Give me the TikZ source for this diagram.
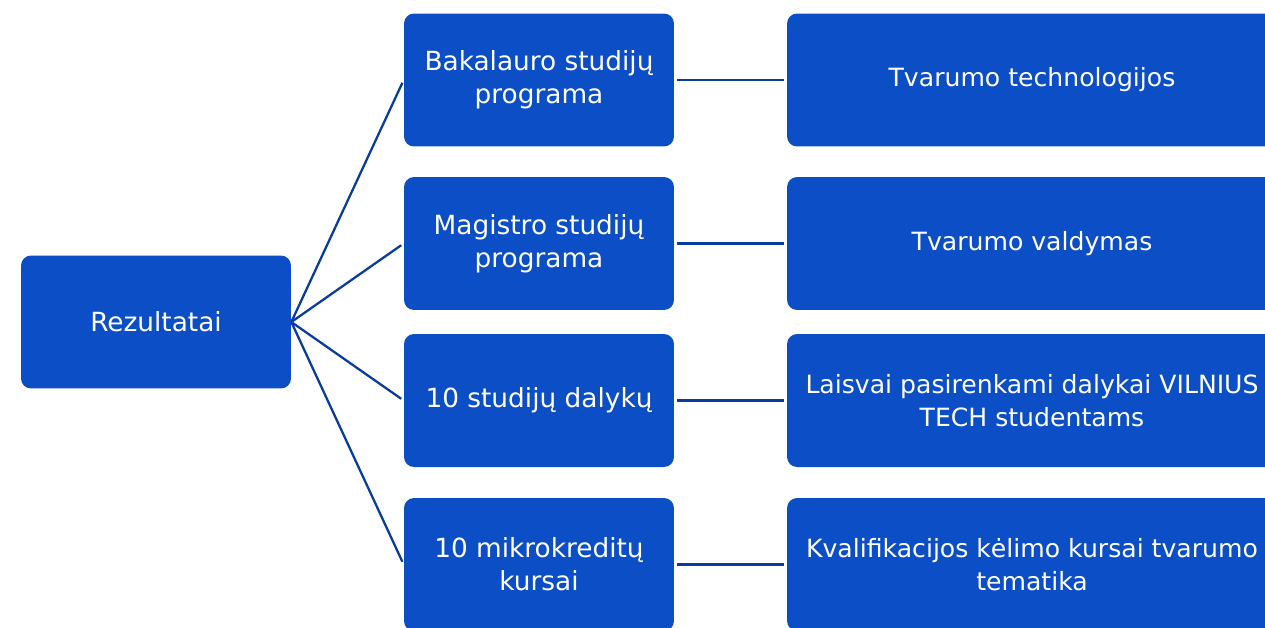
\documentclass[tikz,border=0pt]{standalone}
\usepackage{fontspec}
\setmainfont{DejaVu Sans}
\definecolor{boxblue}{HTML}{0C4EC5}
\definecolor{lineblue}{HTML}{0A3C9E}
\tikzset{
  box/.style={fill=boxblue,text=white,rounded corners=0.2cm,align=center,
    minimum height=2.66cm,inner sep=0pt,
    font=\fontsize{15}{18.8}\selectfont},
  leftbox/.style={box,minimum width=5.4cm},
  midbox/.style={box,minimum width=5.4cm},
  rightbox/.style={box,minimum width=9.8cm,font=\fontsize{14.3}{18.8}\selectfont},
  link/.style={lineblue,line width=1.3pt,shorten <=0.06cm,shorten >=0.06cm}
}
\begin{document}
\begin{tikzpicture}[x=0.02cm,y=-0.02cm]
\useasboundingbox (0,0) rectangle (1265,627);
\clip (0,0) rectangle (1265,627);

% root:
\node[leftbox] (rez) at (156,322) {Rezultatai};

% middle column:
\node[midbox] (bak) at (539,80) {Bakalauro studijų\\programa};
\node[midbox] (mag) at (539,243.5) {Magistro studijų\\programa};
\node[midbox] (dal) at (539,400.5) {10 studijų dalykų};
\node[midbox] (mik) at (539,564.5) {10 mikrokreditų\\kursai};

% right column:
\node[rightbox] (tec) at (1032,80) {Tvarumo technologijos};
\node[rightbox] (val) at (1032,243.5) {Tvarumo valdymas};
\node[rightbox] (lai) at (1032,400.5) {Laisvai pasirenkami dalykai VILNIUS\\TECH studentams};
\node[rightbox] (kva) at (1032,564.5) {Kvalifikacijos kėlimo kursai tvarumo\\tematika};

% connectors:
\foreach \m in {bak,mag,dal,mik}
  \draw[link,shorten <=0pt] (rez.east) -- (\m.west);
\draw[link] (bak.east) -- (tec.west);
\draw[link] (mag.east) -- (val.west);
\draw[link] (dal.east) -- (lai.west);
\draw[link] (mik.east) -- (kva.west);

\end{tikzpicture}
\end{document}
